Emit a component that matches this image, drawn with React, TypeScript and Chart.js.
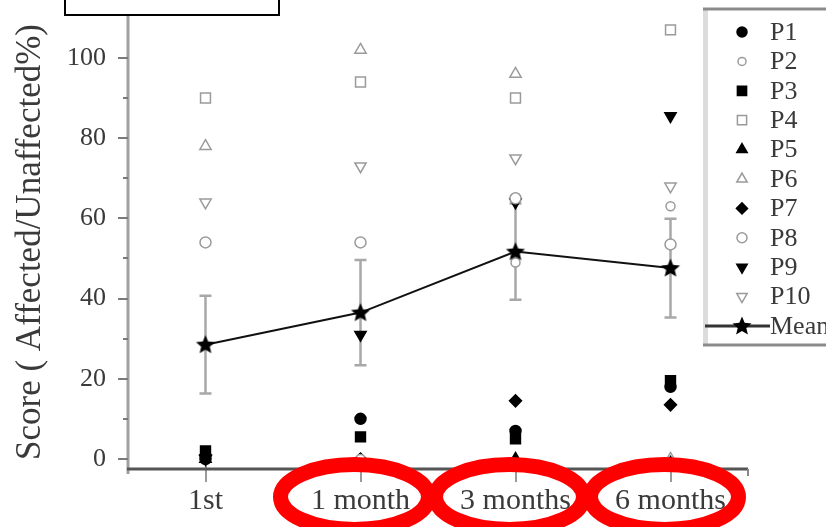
import React, { useEffect, useRef } from 'react';
import { Chart, registerables } from 'chart.js';
import { drawPoint } from 'chart.js/helpers';

Chart.register(...registerables);

// ---- data ----
const categories = ['1st', '1 month', '3 months', '6 months'];
const p1 = [0, 10, 7, 18];
const p2 = [0, 0, 49, 63];
const p3 = [2, 5.5, 5, 19.5];
const p4 = [90, 94, 90, 107];
const p5 = [0, -1, 0, -1];
const p6 = [78, 102, 96, 0];
const p7 = [1, 0, 14.5, 13.5];
const p8 = [54, 54, 65, 53.5];
const p9 = [0, 31, 64, 85.5];
const p10 = [64, 73, 75, 68];
const meanValues = [28.5, 36.5, 51.7, 47.6];
const meanError = [12.2, 13.1, 12.0, 12.3];
const yMajorTicks = [0, 20, 40, 60, 80, 100];
const yMinorTicks = [10, 30, 50, 70, 90];
const yTitle = 'Score ( Affected/Unaffected%)';

const FONT = "'Liberation Serif', 'Times New Roman', serif";
const TEXT = '#3a3a3a';
const GRAY = '#9a9a9a';

type Series = {
  label: string;
  data: number[];
  style: string;
  rotation?: number;
  radius: number;
  filled: boolean;
};

const series: Series[] = [
  { label: 'P1', data: p1, style: 'circle', radius: 5.5, filled: true },
  { label: 'P2', data: p2, style: 'circle', radius: 4.5, filled: false },
  { label: 'P3', data: p3, style: 'rect', radius: 7, filled: true },
  { label: 'P4', data: p4, style: 'rect', radius: 7, filled: false },
  { label: 'P5', data: p5, style: 'triangle', radius: 6.5, filled: true },
  { label: 'P6', data: p6, style: 'triangle', radius: 6.5, filled: false },
  { label: 'P7', data: p7, style: 'rectRot', radius: 6, filled: true },
  { label: 'P8', data: p8, style: 'circle', radius: 5.5, filled: false },
  { label: 'P9', data: p9, style: 'triangle', rotation: 180, radius: 6.5, filled: true },
  { label: 'P10', data: p10, style: 'triangle', rotation: 180, radius: 6.5, filled: false },
];

function makeStar(r: number): HTMLCanvasElement {
  const c = document.createElement('canvas');
  const s = Math.ceil(r * 2 + 2);
  c.width = s;
  c.height = s;
  const ctx = c.getContext('2d')!;
  ctx.fillStyle = '#000';
  ctx.beginPath();
  for (let i = 0; i < 10; i++) {
    const rad = i % 2 === 0 ? r : r * 0.45;
    const a = -Math.PI / 2 + (i * Math.PI) / 5;
    const x = s / 2 + rad * Math.cos(a);
    const y = s / 2 + rad * Math.sin(a) + 0.5;
    if (i === 0) ctx.moveTo(x, y);
    else ctx.lineTo(x, y);
  }
  ctx.closePath();
  ctx.fill();
  return c;
}

export default function App() {
  const ref = useRef<HTMLCanvasElement | null>(null);

  useEffect(() => {
    document.body.style.margin = '0';
    const canvas = ref.current;
    if (!canvas) return;
    const star = makeStar(10);

    const axesPlugin = {
      id: 'axesAndErrors',
      beforeDatasetsDraw(chart: any) {
        const { ctx, chartArea } = chart;
        const xs = chart.scales.x;
        const ys = chart.scales.y;
        ctx.save();
        // y axis line
        ctx.strokeStyle = '#a0a0a0';
        ctx.lineWidth = 3;
        ctx.beginPath();
        ctx.moveTo(chartArea.left, chartArea.top - 1);
        ctx.lineTo(chartArea.left, chartArea.bottom + 5);
        ctx.stroke();
        // y ticks
        ctx.strokeStyle = '#7a7a7a';
        ctx.lineWidth = 2;
        yMajorTicks.forEach((v) => {
          const y = Math.round(ys.getPixelForValue(v));
          ctx.beginPath();
          ctx.moveTo(chartArea.left - 10, y);
          ctx.lineTo(chartArea.left, y);
          ctx.stroke();
        });
        yMinorTicks.forEach((v) => {
          const y = Math.round(ys.getPixelForValue(v));
          ctx.beginPath();
          ctx.moveTo(chartArea.left - 5, y);
          ctx.lineTo(chartArea.left, y);
          ctx.stroke();
        });
        // x ticks
        ctx.strokeStyle = GRAY;
        ctx.lineWidth = 2;
        categories.forEach((_, i) => {
          const x = Math.round(xs.getPixelForValue(i));
          ctx.beginPath();
          ctx.moveTo(x, chartArea.bottom - 14);
          ctx.lineTo(x, chartArea.bottom + 13);
          ctx.stroke();
        });
        // x axis line
        ctx.strokeStyle = '#555';
        ctx.lineWidth = 3;
        ctx.beginPath();
        ctx.moveTo(chartArea.left - 1, chartArea.bottom);
        ctx.lineTo(chartArea.right, chartArea.bottom);
        ctx.stroke();
        ctx.strokeStyle = '#888';
        ctx.lineWidth = 2;
        ctx.beginPath();
        ctx.moveTo(chartArea.right, chartArea.bottom);
        ctx.lineTo(chartArea.right, chartArea.bottom + 7);
        ctx.stroke();
        // error bars
        ctx.strokeStyle = '#a8a8a8';
        ctx.lineWidth = 2.5;
        meanValues.forEach((m, i) => {
          const x = xs.getPixelForValue(i);
          const yt = ys.getPixelForValue(m + meanError[i]);
          const yb = ys.getPixelForValue(m - meanError[i]);
          ctx.beginPath();
          ctx.moveTo(x, yt);
          ctx.lineTo(x, yb);
          ctx.moveTo(x - 6, yt);
          ctx.lineTo(x + 6, yt);
          ctx.moveTo(x - 6, yb);
          ctx.lineTo(x + 6, yb);
          ctx.stroke();
        });
        ctx.restore();
      },
      afterDraw(chart: any) {
        const { ctx } = chart;
        const xs = chart.scales.x;
        ctx.save();
        // legend box
        const lx = 703, ly = 9, lw = 130, lh = 336;
        ctx.fillStyle = '#fff';
        ctx.fillRect(lx, ly, lw, lh);
        ctx.fillStyle = '#dcdcdc';
        ctx.fillRect(lx, ly, 5, lh);
        ctx.strokeStyle = '#8a8a8a';
        ctx.lineWidth = 3;
        ctx.beginPath();
        ctx.moveTo(lx, ly);
        ctx.lineTo(lx + lw, ly);
        ctx.moveTo(lx, ly + lh);
        ctx.lineTo(lx + lw, ly + lh);
        ctx.stroke();
        const mx = 742, tx = 770, y0 = 32, step = 29.4;
        ctx.font = `26px ${FONT}`;
        ctx.textBaseline = 'middle';
        ctx.textAlign = 'left';
        series.forEach((s, i) => {
          const y = y0 + i * step;
          ctx.fillStyle = s.filled ? '#000' : '#fff';
          ctx.strokeStyle = s.filled ? '#000' : GRAY;
          ctx.lineWidth = 1.5;
          drawPoint(ctx, { pointStyle: s.style as any, rotation: s.rotation || 0, radius: s.radius - 0.5, borderWidth: 1.5 }, mx, y);
          ctx.fillStyle = TEXT;
          ctx.fillText(s.label, tx, y + 1);
        });
        const ym = y0 + series.length * step;
        ctx.strokeStyle = '#333';
        ctx.lineWidth = 3;
        ctx.beginPath();
        ctx.moveTo(lx + 2, ym);
        ctx.lineTo(tx, ym);
        ctx.stroke();
        ctx.drawImage(star, mx - star.width / 2, ym - star.height / 2);
        ctx.fillStyle = TEXT;
        ctx.fillText('Mean', tx, ym + 1);

        // red annotation ellipses
        ctx.strokeStyle = '#ff0000';
        ctx.lineWidth = 15;
        for (let i = 1; i < categories.length; i++) {
          const x = xs.getPixelForValue(i) - 6;
          ctx.beginPath();
          ctx.ellipse(x, 497, 74, 32.5, 0, 0, Math.PI * 2);
          ctx.stroke();
        }
        // top-left box (cropped)
        ctx.fillStyle = '#fff';
        ctx.fillRect(65, -10, 214, 25);
        ctx.strokeStyle = '#000';
        ctx.lineWidth = 2;
        ctx.strokeRect(65, -10, 214, 25);
        ctx.restore();
      },
    };

    const datasets: any[] = series.map((s) => ({
      type: 'line',
      label: s.label,
      data: s.data,
      showLine: false,
      pointStyle: s.style,
      pointRotation: s.rotation || 0,
      pointRadius: s.radius,
      pointBorderWidth: 1.5,
      pointBackgroundColor: s.filled ? '#000' : '#fff',
      pointBorderColor: s.filled ? '#000' : GRAY,
      order: 2,
    }));
    datasets.unshift({
      type: 'line',
      label: 'Mean',
      data: meanValues,
      borderColor: '#111',
      borderWidth: 2,
      tension: 0,
      pointStyle: star,
      pointRadius: 10,
      order: 0,
    });

    const chart = new Chart(canvas, {
      type: 'line',
      data: { labels: categories, datasets },
      options: {
        animation: false,
        responsive: false,
        layout: { padding: { top: 15, right: 78, left: 0, bottom: 0 } },
        plugins: { legend: { display: false }, tooltip: { enabled: false } },
        scales: {
          x: {
            type: 'category',
            offset: true,
            grid: { display: false, drawTicks: false },
            border: { display: false },
            ticks: { font: { family: FONT, size: 30 }, color: TEXT, padding: 14, maxRotation: 0, autoSkip: false },
            afterFit: (s: any) => {
              s.height = 58;
              s.paddingLeft = 0;
              s.paddingRight = 0;
            },
          },
          y: {
            type: 'linear',
            min: -2.5,
            max: 110.7,
            grid: { display: false, drawTicks: false },
            border: { display: false },
            ticks: {
              stepSize: 20,
              includeBounds: false,
              font: { family: FONT, size: 26 },
              color: TEXT,
              padding: 22,
              callback: (v: any) => (v % 20 === 0 && v >= 0 && v <= 100 ? String(v) : ''),
            },
            title: {
              display: true,
              text: yTitle,
              font: { family: FONT, size: 35 },
              color: TEXT,
              padding: { top: 10, bottom: 0 },
            },
            afterFit: (s: any) => {
              s.width = 128;
              s.paddingTop = 0;
              s.paddingBottom = 0;
            },
          },
        },
      },
      plugins: [axesPlugin],
    } as any);

    return () => chart.destroy();
  }, []);

  return (
    <div style={{ position: 'fixed', left: 0, top: 0, width: 826, height: 527, background: '#fff' }}>
      <canvas ref={ref} width={826} height={527} style={{ display: 'block', width: 826, height: 527 }} />
    </div>
  );
}
